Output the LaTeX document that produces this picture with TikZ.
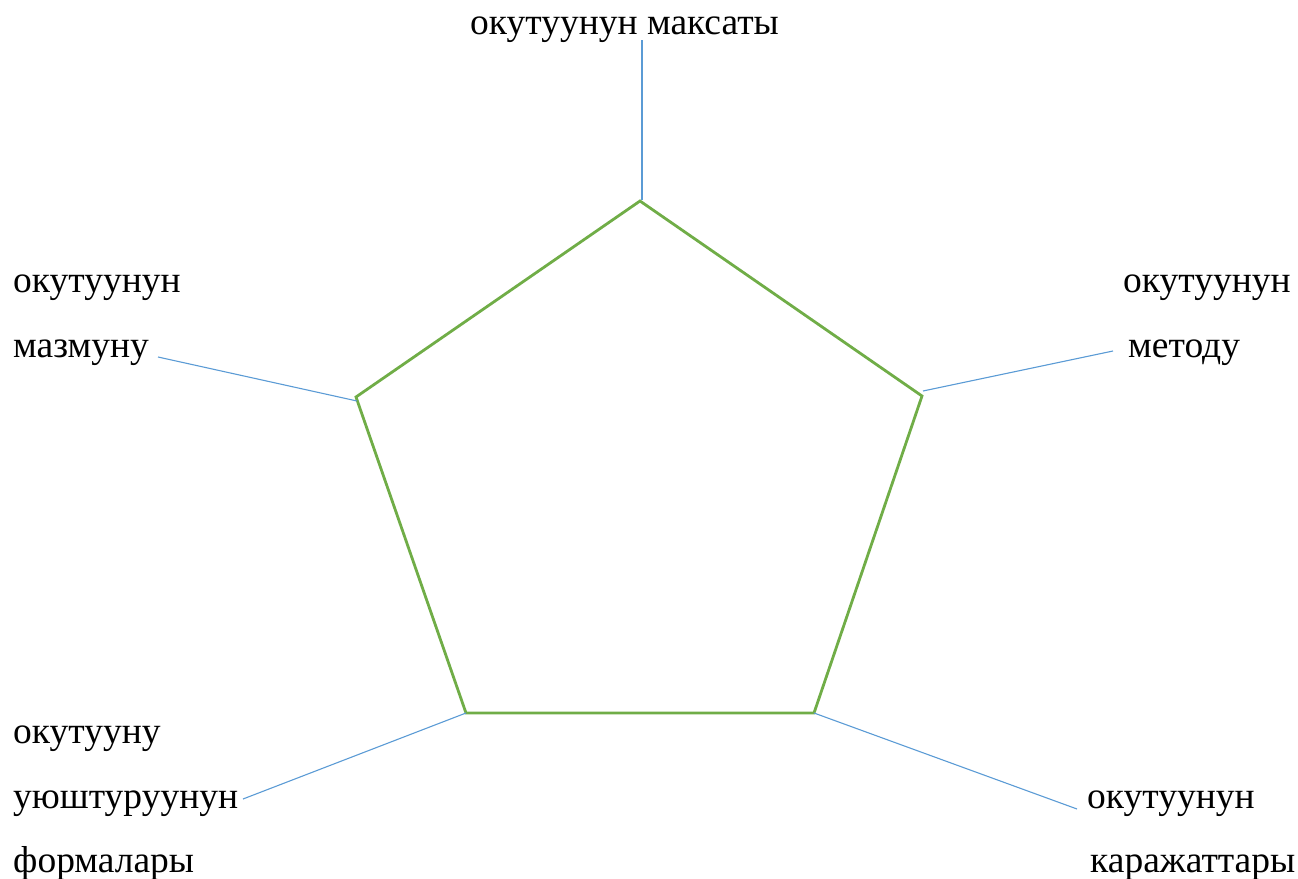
\documentclass[tikz,border=0pt]{standalone}
\usepackage{fontspec}
\setmainfont{Liberation Serif}
\definecolor{pgreen}{HTML}{70AD47}
\definecolor{pblue}{HTML}{5B9BD5}
\begin{document}
\begin{tikzpicture}[x=1pt,y=-1pt,
  lbl/.style={anchor=base west,inner sep=0pt,font=\fontsize{37.5}{44}\selectfont},
  edge/.style={draw=pgreen,line width=2.8pt,line join=miter},
  link/.style={draw=pblue,line width=1.1pt}]
\useasboundingbox (0,0) rectangle (1298,878);
% pentagon vertices
\coordinate (vt) at (640,201);
\coordinate (vr) at (922,396);
\coordinate (vbr) at (814,713);
\coordinate (vbl) at (466,713);
\coordinate (vl) at (356,397);
\draw[edge] (vt) -- (vr) -- (vbr) -- (vbl) -- (vl) -- cycle;
% labels
\node[lbl] (t1) at (470,34) {окутуунун максаты};
\node[lbl] (l1) at (13,292) {окутуунун};
\node[lbl] (l2) at (13,357) {мазмуну};
\node[lbl] (r1) at (1123,292) {окутуунун};
\node[lbl] (r2) at (1128,357) {методу};
\node[lbl] (bl1) at (13,743) {окутууну};
\node[lbl] (bl2) at (13,808) {уюштуруунун};
\node[lbl] (bl3) at (13,872) {формалары};
\node[lbl] (br1) at (1087,808) {окутуунун};
\node[lbl] (br2) at (1090,872) {каражаттары};
% connector ends
\coordinate (et) at (642,40);
\coordinate (eta) at (642,200);
\coordinate (el) at (158,357);
\coordinate (ela) at (357,401);
\coordinate (er) at (1113,351);
\coordinate (era) at (923,391);
\coordinate (ebl) at (243,799);
\coordinate (ebr) at (1077,809);
\draw[link] (et) -- (eta);
\draw[link] (el) -- (ela);
\draw[link] (er) -- (era);
\draw[link] (ebl) -- (vbl);
\draw[link] (ebr) -- (vbr);
\end{tikzpicture}
\end{document}
